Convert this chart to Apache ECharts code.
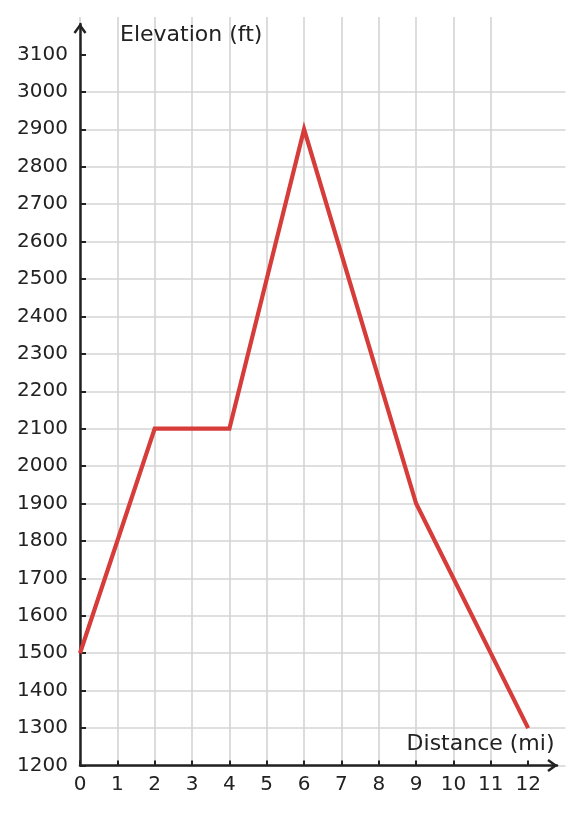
<!DOCTYPE html>
<html>
<head>
<meta charset="utf-8">
<script src="https://cdn.jsdelivr.net/npm/echarts@6/dist/echarts.min.js"></script>
<style>
html,body{margin:0;padding:0;background:#fff;}
#chart{width:583px;height:813px;}
</style>
</head>
<body>
<div id="chart"></div>
<script>
const distances = [0, 2, 4, 6, 9, 12];
const elevations = [1500, 2100, 2100, 2900, 1900, 1300];
const xTicks = [0,1,2,3,4,5,6,7,8,9,10,11,12];
const yTicks = [1200,1300,1400,1500,1600,1700,1800,1900,2000,2100,2200,2300,2400,2500,2600,2700,2800,2900,3000,3100];
const xName = 'Distance (mi)';
const yName = 'Elevation (ft)';

const points = distances.map((d, i) => [d, elevations[i]]);
const FONT = 'DejaVu Sans';
const AX = '#222222';
const chevron = 'path://M13,0 L26,18 L21.94,20.92 L13,8.5 L4.06,20.92 L0,18 Z';
const plain = v => String(v);

const chart = echarts.init(document.getElementById('chart'), null, {renderer:'canvas'});
chart.setOption({
  animation: false,
  backgroundColor: '#ffffff',
  grid: [
    {left: 80, right: 17.5, top: 17, bottom: 47.5, containLabel: false, outerBoundsMode: 'none'},
    {left: 80, right: 26, top: 24, bottom: 47.5, containLabel: false, outerBoundsMode: 'none'}
  ],
  xAxis: [
    {
      gridIndex: 0, type: 'value', min: 0, max: 13, interval: 1,
      axisLine: {show: false},
      axisTick: {show: true, inside: true, length: 5, lineStyle: {color: AX, width: 2}, customValues: xTicks},
      axisLabel: {show: true, margin: 9, fontFamily: FONT, fontSize: 20, color: AX, customValues: xTicks, formatter: plain},
      splitLine: {show: true, showMaxLine: false, lineStyle: {color: '#d4d4d4', width: 1.6}},
      name: xName, nameLocation: 'end', nameGap: -11,
      nameTextStyle: {fontFamily: FONT, fontSize: 22, color: AX, align: 'right', verticalAlign: 'bottom', lineHeight: 42}
    },
    {
      gridIndex: 1, type: 'value', min: 0, max: 1,
      axisLine: {show: true, onZero: false, symbol: ['none', chevron], symbolSize: [13, 10.5], symbolOffset: [0, -4.5], lineStyle: {color: AX, width: 2.5}},
      axisTick: {show: false}, axisLabel: {show: false}, splitLine: {show: false}
    }
  ],
  yAxis: [
    {
      gridIndex: 0, type: 'value', min: 1200, max: 3200, interval: 100,
      axisLine: {show: false},
      axisTick: {show: true, inside: true, length: 6, lineStyle: {color: AX, width: 2}, customValues: yTicks},
      axisLabel: {show: true, margin: 12, fontFamily: FONT, fontSize: 20, color: AX, customValues: yTicks, formatter: plain},
      splitLine: {show: true, showMaxLine: false, lineStyle: {color: '#d4d4d4', width: 1.6}},
      name: yName, nameLocation: 'end', nameGap: 0,
      nameTextStyle: {fontFamily: FONT, fontSize: 22, color: AX, align: 'left', verticalAlign: 'top', lineHeight: 36, padding: [0,0,0,40]}
    },
    {
      gridIndex: 1, type: 'value', min: 0, max: 1,
      axisLine: {show: true, onZero: false, symbol: ['none', chevron], symbolSize: [13, 10.5], symbolOffset: [0, -4.5], lineStyle: {color: AX, width: 2.5}},
      axisTick: {show: false}, axisLabel: {show: false}, splitLine: {show: false}
    }
  ],
  series: [{
    type: 'line',
    xAxisIndex: 0, yAxisIndex: 0,
    data: points,
    showSymbol: false,
    symbol: 'none',
    lineStyle: {color: '#d63d3a', width: 4.2, join: 'miter'},
    z: 5
  }]
});
</script>
</body>
</html>
